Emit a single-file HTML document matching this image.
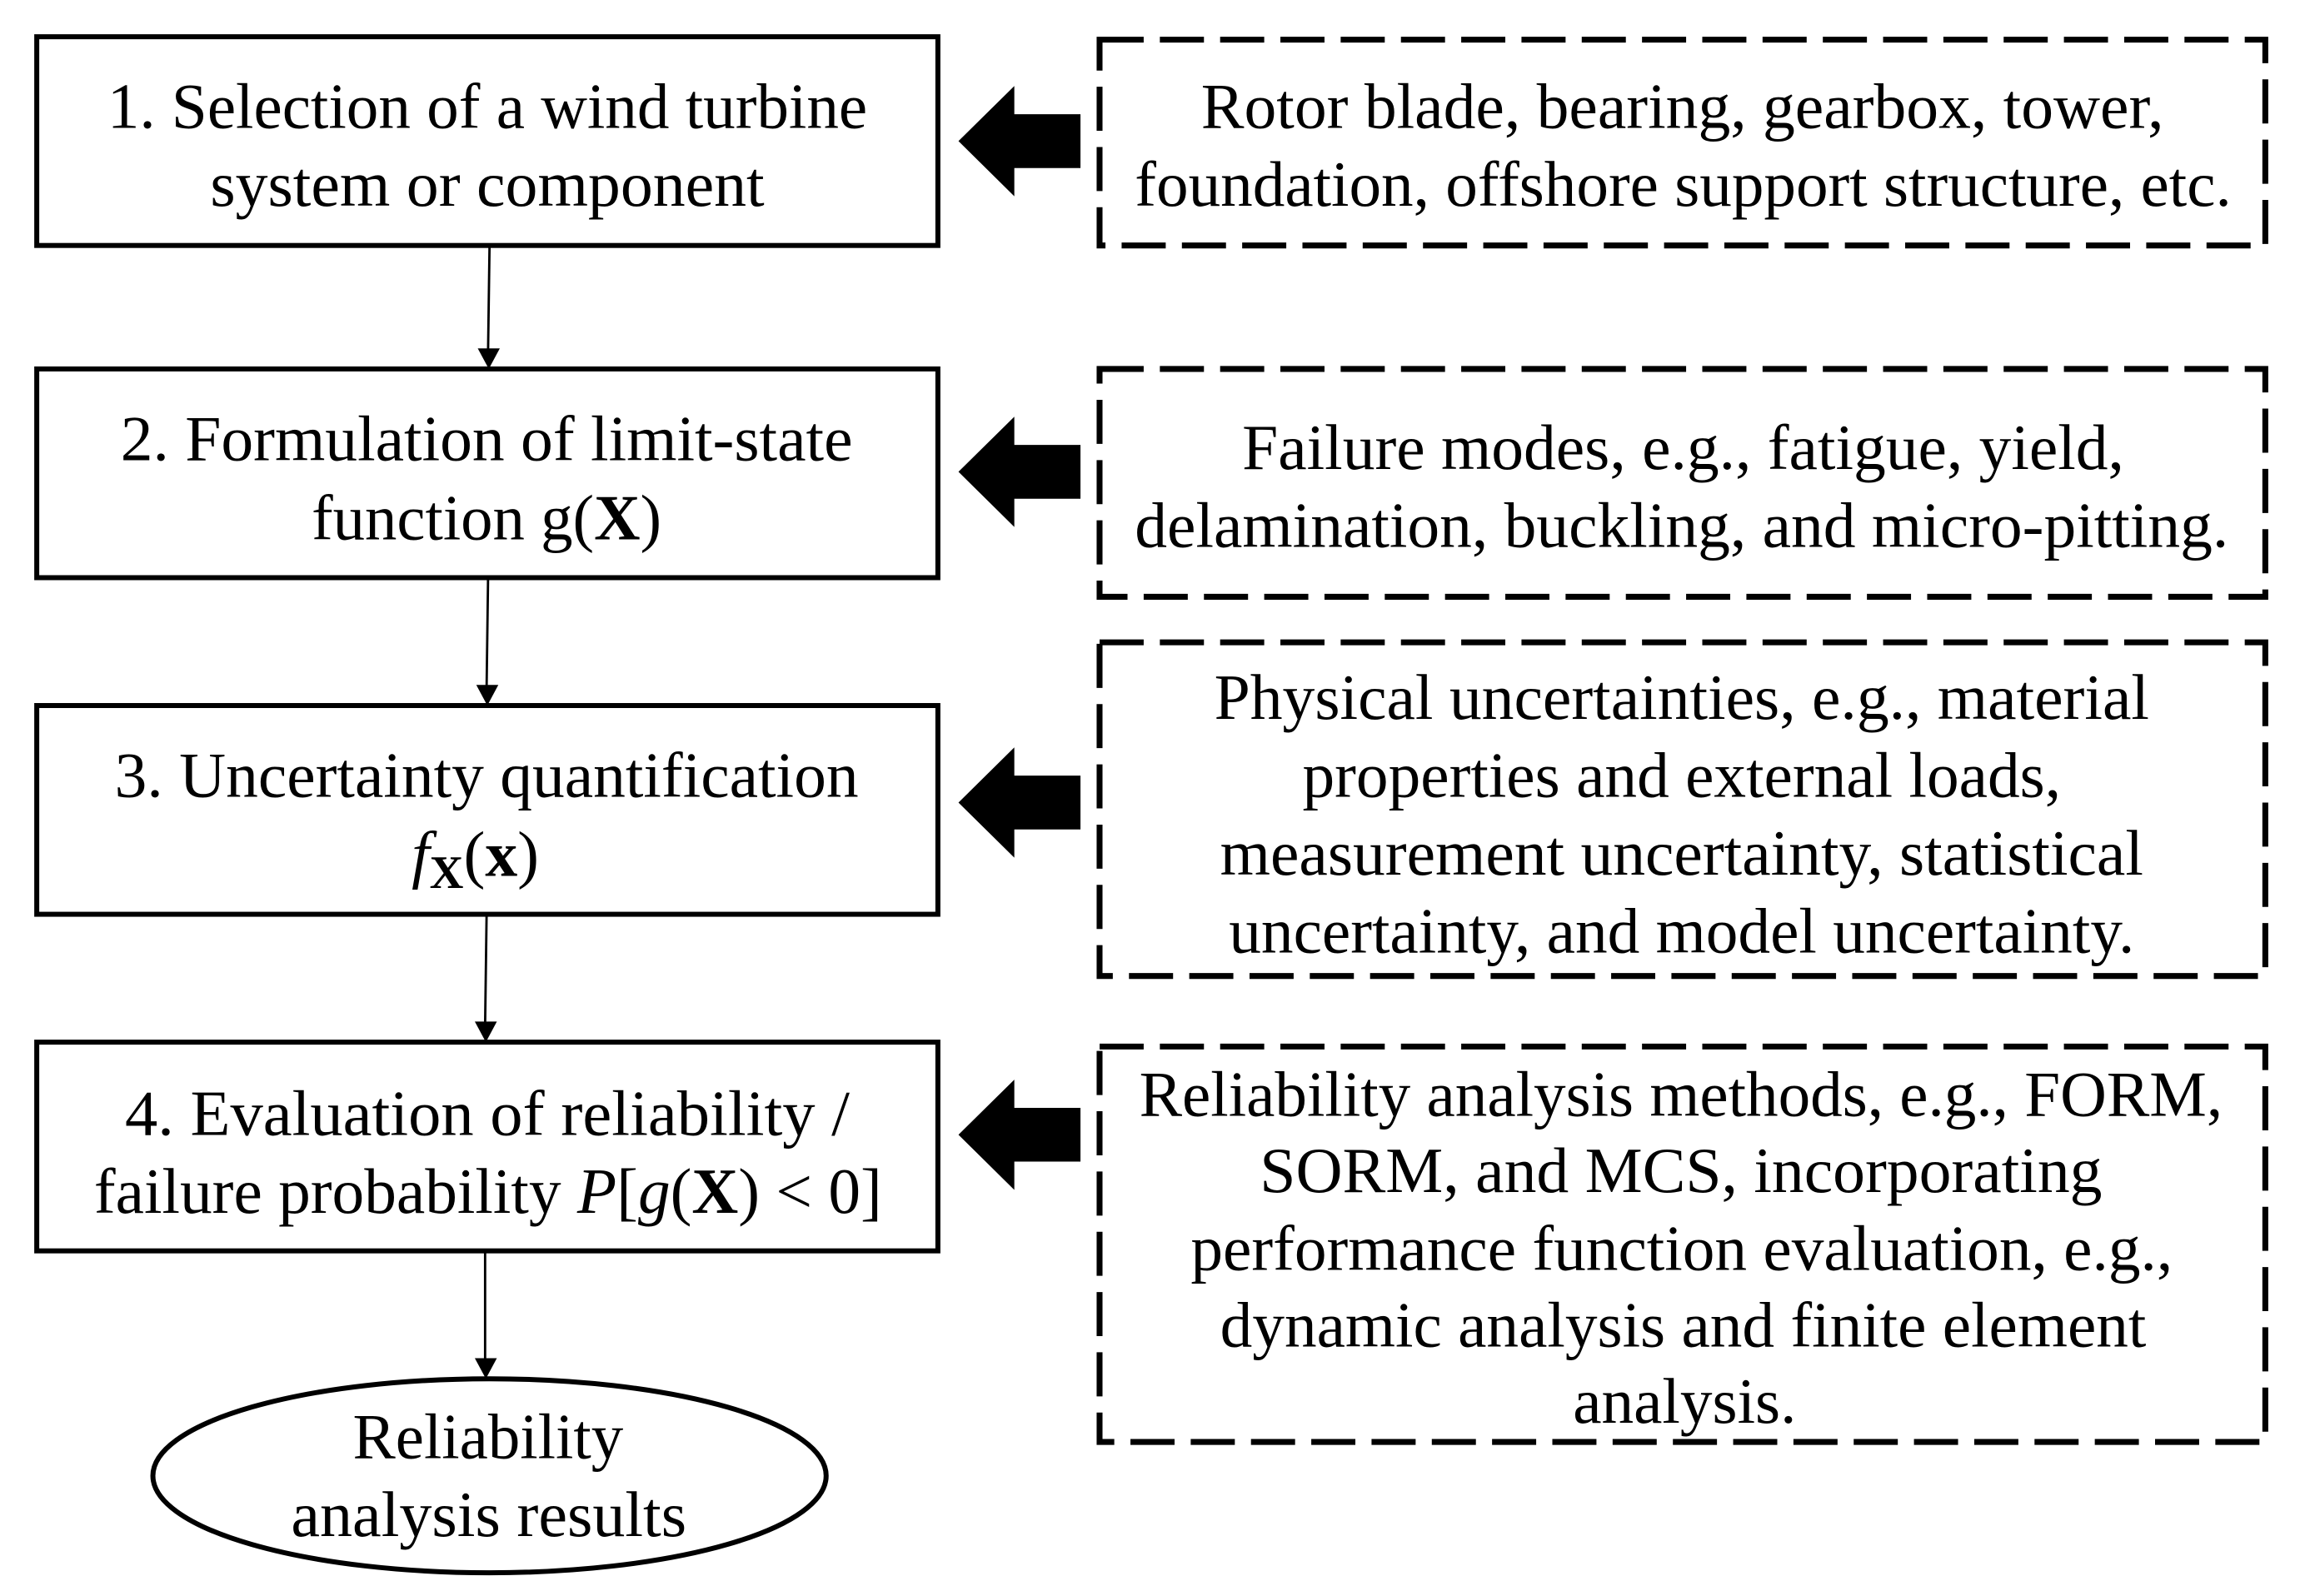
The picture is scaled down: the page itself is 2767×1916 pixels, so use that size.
<!DOCTYPE html>
<html><head><meta charset="utf-8"><style>
html,body{margin:0;padding:0;background:#fff;}
svg{display:block;}
text{font-family:"Liberation Serif",serif;font-size:44px;fill:#000;}
</style></head><body>
<svg width="2767" height="1916" viewBox="0 0 1568 1085.8" preserveAspectRatio="none" xmlns="http://www.w3.org/2000/svg">
<g fill="none" stroke="#000" stroke-width="3.4">
<rect x="25" y="25" width="613" height="142"/>
<rect x="25" y="251" width="613" height="142"/>
<rect x="25" y="480" width="613" height="142"/>
<rect x="25" y="709" width="613" height="142"/>
<ellipse cx="333" cy="1004" rx="229" ry="66"/>
</g>
<g fill="none" stroke="#000" stroke-width="4" stroke-dasharray="30 11">
<rect x="748" y="27" width="793" height="140"/>
<rect x="748" y="251" width="793" height="155"/>
<rect x="748" y="437" width="793" height="227"/>
<rect x="748" y="712" width="793" height="269"/>
</g>
<g stroke="#000" stroke-width="1.6">
<line x1="333" y1="168" x2="332" y2="240"/>
<line x1="332" y1="394" x2="331" y2="469"/>
<line x1="331" y1="623" x2="330" y2="698"/>
<line x1="330" y1="852" x2="330" y2="927"/>
</g>
<g fill="#000">
<polygon points="325,237 340,237 332.5,251"/>
<polygon points="324,466 339,466 331.5,480"/>
<polygon points="323,695 338,695 330.5,709"/>
<polygon points="323,924 338,924 330.5,938"/>
</g>
<g fill="#000">
<polygon points="652,96 690,58.5 690,77.7 735,77.7 735,114.3 690,114.3 690,133.5"/>
<polygon points="652,321 690,283.5 690,302.7 735,302.7 735,339.3 690,339.3 690,358.5"/>
<polygon points="652,546 690,508.5 690,527.7 735,527.7 735,564.3 690,564.3 690,583.5"/>
<polygon points="652,772 690,734.5 690,753.7 735,753.7 735,790.3 690,790.3 690,809.5"/>
</g>
<g>
<text x="73" y="87" textLength="517" lengthAdjust="spacingAndGlyphs">1. Selection of a wind turbine</text>
<text x="143" y="140" textLength="377" lengthAdjust="spacingAndGlyphs">system or component</text>
<text x="82" y="313" textLength="498" lengthAdjust="spacingAndGlyphs">2. Formulation of limit-state</text>
<text x="212" y="367" textLength="238" lengthAdjust="spacingAndGlyphs">function g(<tspan font-weight="bold">X</tspan>)</text>
<text x="78" y="542" textLength="506" lengthAdjust="spacingAndGlyphs">3. Uncertainty quantification</text>
<text x="280" y="596"><tspan font-style="italic">f</tspan><tspan font-weight="bold" font-size="32" dy="8">X</tspan><tspan dy="-8">(</tspan><tspan font-weight="bold">x</tspan>)</text>
<text x="85" y="772" textLength="493" lengthAdjust="spacingAndGlyphs">4. Evaluation of reliability /</text>
<text x="64" y="825" textLength="536" lengthAdjust="spacingAndGlyphs">failure probability <tspan font-style="italic">P</tspan>[<tspan font-style="italic">g</tspan>(<tspan font-weight="bold">X</tspan>) &lt; 0]</text>
<text x="240" y="992" textLength="184" lengthAdjust="spacingAndGlyphs">Reliability</text>
<text x="198" y="1045" textLength="269" lengthAdjust="spacingAndGlyphs">analysis results</text>

<text x="817" y="87" textLength="655" lengthAdjust="spacingAndGlyphs">Rotor blade, bearing, gearbox, tower,</text>
<text x="772" y="140" textLength="746" lengthAdjust="spacingAndGlyphs">foundation, offshore support structure, etc.</text>
<text x="845" y="319" textLength="600" lengthAdjust="spacingAndGlyphs">Failure modes, e.g., fatigue, yield,</text>
<text x="772" y="372" textLength="744" lengthAdjust="spacingAndGlyphs">delamination, buckling, and micro-pitting.</text>
<text x="826" y="489" textLength="636" lengthAdjust="spacingAndGlyphs">Physical uncertainties, e.g., material</text>
<text x="886" y="542" textLength="516" lengthAdjust="spacingAndGlyphs">properties and external loads,</text>
<text x="830" y="595" textLength="628" lengthAdjust="spacingAndGlyphs">measurement uncertainty, statistical</text>
<text x="836" y="648" textLength="616" lengthAdjust="spacingAndGlyphs">uncertainty, and model uncertainty.</text>
<text x="775" y="759" textLength="737" lengthAdjust="spacingAndGlyphs">Reliability analysis methods, e.g., FORM,</text>
<text x="857" y="811" textLength="573" lengthAdjust="spacingAndGlyphs">SORM, and MCS, incorporating</text>
<text x="810" y="864" textLength="668" lengthAdjust="spacingAndGlyphs">performance function evaluation, e.g.,</text>
<text x="830" y="916" textLength="630" lengthAdjust="spacingAndGlyphs">dynamic analysis and finite element</text>
<text x="1070" y="968" textLength="152" lengthAdjust="spacingAndGlyphs">analysis.</text>
</g>
</svg>
</body></html>
